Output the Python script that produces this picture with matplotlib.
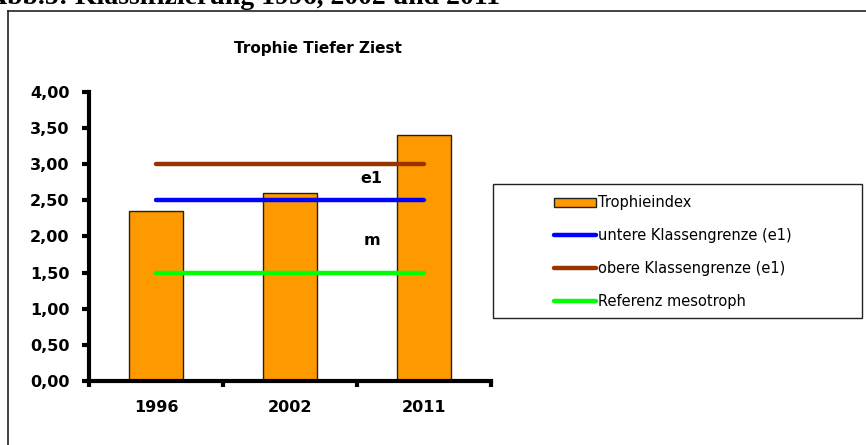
import numpy as np
import matplotlib
matplotlib.use('Agg')
import matplotlib.pyplot as plt
from matplotlib.lines import Line2D
from matplotlib.patches import Patch, Rectangle

# Daten
jahre = ['1996', '2002', '2011']
trophieindex = [2.35, 2.60, 3.40]
untere_grenze = 2.5   # e1
obere_grenze = 3.0    # e1
referenz_meso = 1.5
yticks = [0.0, 0.5, 1.0, 1.5, 2.0, 2.5, 3.0, 3.5, 4.0]

plt.rcParams['font.family'] = ['DejaVu Sans']

W, H = 866, 445
fig = plt.figure(figsize=(W / 100, H / 100), dpi=100)

# abgeschnittene Ueberschrift oben
fig.text(500 / W, 1 - 4 / H, 'Abb.5: Klassifizierung 1996, 2002 und 2011',
         family='Liberation Serif', fontweight='bold', fontsize=20,
         ha='right', va='baseline')

# Rahmen (links + oben)
fig.add_artist(Line2D([8 / W, 8 / W], [0, 1 - 11 / H], color='#222222',
                      lw=1.2, transform=fig.transFigure))
fig.add_artist(Line2D([8 / W, 1], [1 - 11 / H, 1 - 11 / H], color='#222222',
                      lw=1.2, transform=fig.transFigure))

ax = fig.add_axes([89 / W, 1 - 381 / H, 402 / W, 289 / H])
x = np.arange(len(jahre))
ax.bar(x, trophieindex, width=0.4, color='#FF9900', edgecolor='#222222',
       linewidth=1.0, zorder=2)

ax.plot([x[0], x[-1]], [obere_grenze] * 2, color='#993300', lw=3.2,
        solid_capstyle='round', zorder=3)
ax.plot([x[0], x[-1]], [untere_grenze] * 2, color='#0000FF', lw=3.2,
        solid_capstyle='round', zorder=3)
ax.plot([x[0], x[-1]], [referenz_meso] * 2, color='#00FF00', lw=3.2,
        solid_capstyle='round', zorder=3)

ax.text(1.61, 2.80, 'e1', fontsize=11.5, fontweight='bold', ha='center', va='center')
ax.text(1.61, 1.94, 'm', fontsize=11.5, fontweight='bold', ha='center', va='center')

ax.set_xlim(-0.5, 2.5)
ax.set_ylim(0, 4.0)
ax.set_yticks(yticks)
ax.set_yticklabels([f'{v:.2f}'.replace('.', ',') for v in yticks],
                   fontsize=11.5, fontweight='bold')
ax.set_xticks([-0.5, 0.5, 1.5, 2.5])
ax.set_xticklabels([])
ax.set_xticks(x, minor=True)
ax.set_xticklabels(jahre, minor=True, fontsize=11.5, fontweight='bold')
ax.tick_params(axis='x', which='minor', length=0, pad=14)
ax.tick_params(axis='x', which='major', direction='out', length=4, width=3)
ax.tick_params(axis='y', direction='out', length=5, width=3, pad=9)

for s in ['top', 'right']:
    ax.spines[s].set_visible(False)
ax.spines['left'].set_linewidth(3)
ax.spines['bottom'].set_linewidth(3)
ax.set_facecolor('none')

fig.text(318 / W, 1 - 48 / H, 'Trophie Tiefer Ziest', fontsize=11,
         fontweight='bold', ha='center', va='center')

# Legende mit eigenem Rahmen
fig.add_artist(Rectangle((493 / W, 1 - 318 / H), 369 / W, 134 / H,
                         transform=fig.transFigure, facecolor='white',
                         edgecolor='#222222', lw=1.0))
handles = [
    Patch(facecolor='#FF9900', edgecolor='#222222', linewidth=1.0),
    Line2D([], [], color='#0000FF', lw=3.2, solid_capstyle='round'),
    Line2D([], [], color='#993300', lw=3.2, solid_capstyle='round'),
    Line2D([], [], color='#00FF00', lw=3.2, solid_capstyle='round'),
]
labels = ['Trophieindex', 'untere Klassengrenze (e1)',
          'obere Klassengrenze (e1)', 'Referenz mesotroph']
leg = fig.legend(handles, labels, loc='center left',
                 bbox_to_anchor=(554 / W, 1 - 252 / H),
                 bbox_transform=fig.transFigure, fontsize=10.5,
                 frameon=False, handlelength=2.9, handleheight=0.6,
                 handletextpad=0.15, labelspacing=1.22, borderpad=0,
                 borderaxespad=0)
leg.set_zorder(5)

fig.savefig('out.png', dpi=100)
